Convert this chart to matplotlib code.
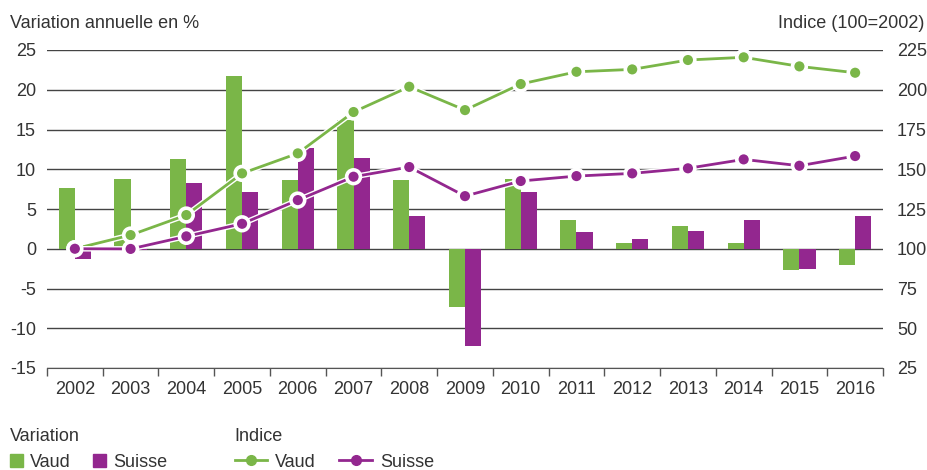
import numpy as np
import matplotlib
matplotlib.use("Agg")
import matplotlib.pyplot as plt
import matplotlib.patheffects as pe
from matplotlib.patches import Patch
from matplotlib.lines import Line2D

plt.rcParams['font.family'] = ['Liberation Sans', 'DejaVu Sans']
plt.rcParams['axes.unicode_minus'] = False

# data
years = [str(y) for y in range(2002, 2017)]
var_vaud = [7.6, 8.8, 11.3, 21.7, 8.6, 16.2, 8.6, -7.3, 8.8, 3.6, 0.7, 2.85, 0.7, -2.7, -2.1]
var_suisse = [-1.3, -0.2, 8.3, 7.1, 12.7, 11.4, 4.1, -12.2, 7.1, 2.1, 1.2, 2.2, 3.6, -2.55, 4.1]
idx_vaud = [100, 108.6, 121.2, 147.4, 160.0, 186.0, 201.9, 187.2, 203.6, 211.3, 212.8, 218.7, 220.4, 214.7, 210.7]
idx_suisse = [100, 99.9, 107.8, 115.7, 130.6, 145.3, 151.4, 133.1, 142.6, 145.7, 147.4, 150.6, 156.2, 152.2, 158.3]

green = '#7ab648'
purple = '#93278f'
txt = '#333333'
fs = 13

fig = plt.figure(figsize=(9.28, 4.70), dpi=100)
ax = fig.add_axes([47 / 928, 1 - 368 / 470, 836 / 928, 318 / 470])
ax2 = ax.twinx()

x = np.arange(len(years))
w = 0.29
ax.bar(x - w / 2, var_vaud, w, color=green, zorder=2)
ax.bar(x + w / 2, var_suisse, w, color=purple, zorder=2)

ax.set_ylim(-15, 25)
ax.set_yticks(range(-15, 26, 5))
ax.set_xlim(-0.5, len(years) - 0.5)
ax.set_xticks(x)
ax.set_xticklabels(years)
ax.set_xticks(np.arange(-0.5, len(years), 1), minor=True)
ax.tick_params(axis='x', which='major', length=0, pad=9, labelsize=fs, labelcolor=txt)
ax.tick_params(axis='x', which='minor', length=6, width=1, color='#555555')
ax.tick_params(axis='y', length=0, pad=8, labelsize=fs, labelcolor=txt)
ax.grid(axis='y', color='#444444', linewidth=1)
ax.set_axisbelow(True)
for s in ['top', 'left', 'right']:
    ax.spines[s].set_visible(False)
ax.spines['bottom'].set_color('#555555')

stroke = [pe.Stroke(linewidth=4, foreground='white'), pe.Normal()]
ax2.plot(x, idx_vaud, color=green, lw=2, marker='o', ms=8.5, mec='white', mew=1.2, path_effects=stroke)
ax2.plot(x, idx_suisse, color=purple, lw=2, marker='o', ms=8.5, mec='white', mew=1.2, path_effects=stroke)
ax2.set_ylim(25, 225)
ax2.set_yticks(range(25, 226, 25))
ax2.tick_params(axis='y', length=0, pad=10, labelsize=fs, labelcolor=txt)
for s in ['top', 'left', 'right', 'bottom']:
    ax2.spines[s].set_visible(False)

fig.text(10 / 928, 1 - 24 / 470, 'Variation annuelle en %', fontsize=fs, color=txt, va='center', ha='left')
fig.text(924 / 928, 1 - 24 / 470, 'Indice (100=2002)', fontsize=fs, color=txt, va='center', ha='right')

# legends
h1 = [Patch(color=green, label='Vaud'), Patch(color=purple, label='Suisse')]
leg1 = fig.legend(handles=h1, title='Variation', loc='upper left', bbox_to_anchor=(6 / 928, 1 - 424 / 470),
                  ncol=2, frameon=False, fontsize=fs, title_fontsize=fs, alignment='left',
                  handlelength=0.75, handleheight=0.75, handletextpad=0.4, columnspacing=1.2,
                  borderaxespad=0, borderpad=0.2, labelcolor=txt)
leg1.get_title().set_color(txt)
h2 = [Line2D([], [], color=green, lw=2, marker='o', ms=7, label='Vaud'),
      Line2D([], [], color=purple, lw=2, marker='o', ms=7, label='Suisse')]
leg2 = fig.legend(handles=h2, title='Indice', loc='upper left', bbox_to_anchor=(231 / 928, 1 - 424 / 470),
                  ncol=2, frameon=False, fontsize=fs, title_fontsize=fs, alignment='left',
                  handlelength=1.8, handletextpad=0.45, columnspacing=1.3,
                  borderaxespad=0, borderpad=0.2, labelcolor=txt)
leg2.get_title().set_color(txt)

fig.savefig('out.png', dpi=100)
